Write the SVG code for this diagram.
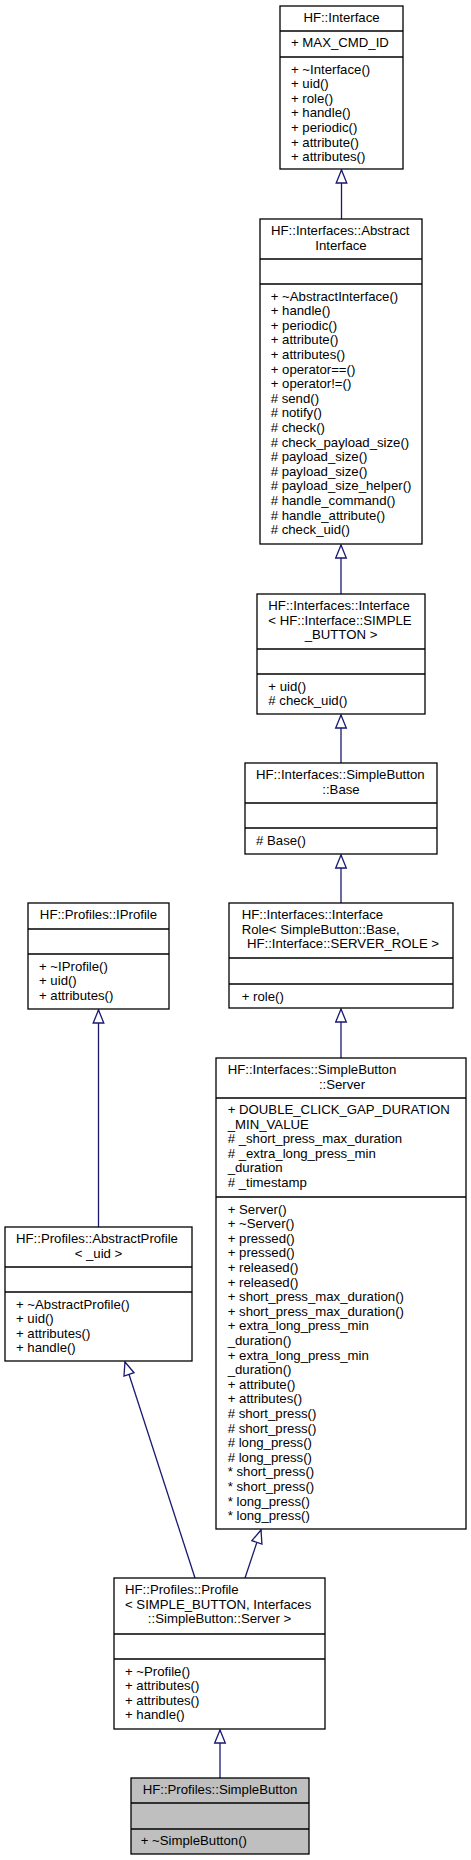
<svg xmlns="http://www.w3.org/2000/svg" width="471" height="1860" viewBox="0 0 471 1860">
<style>
.box{fill:#ffffff;stroke:#000000;stroke-width:1.3}
.sel{fill:#bfbfbf;stroke:#000000;stroke-width:1.3}
.div{stroke:#000000;stroke-width:1.3}
text{font-family:"Liberation Sans",Arial,Helvetica,sans-serif;font-size:13.2px;fill:#000000}
.c{text-anchor:middle}
.edge{fill:none;stroke:#191970;stroke-width:1.3}
</style>
<defs>
<marker id="tri" markerUnits="userSpaceOnUse" viewBox="-1 -1 15 13" markerWidth="15" markerHeight="13" refX="13" refY="5.3" orient="auto" overflow="visible">
<path d="M0,0 L13,5.3 L0,10.6 Z" fill="#ffffff" stroke="#191970" stroke-width="1.3"/>
</marker>
</defs>
<rect width="471" height="1860" fill="#ffffff"/>

<g id="connectors">
<path class="edge" d="M341.5,219 L341.5,170" marker-end="url(#tri)"/>
<path class="edge" d="M341,594 L341,545" marker-end="url(#tri)"/>
<path class="edge" d="M341,763 L341,715" marker-end="url(#tri)"/>
<path class="edge" d="M341,903 L341,855" marker-end="url(#tri)"/>
<path class="edge" d="M341,1058 L341,1009" marker-end="url(#tri)"/>
<path class="edge" d="M98.5,1227 L98.5,1010" marker-end="url(#tri)"/>
<path class="edge" d="M195,1578 L125,1362" marker-end="url(#tri)"/>
<path class="edge" d="M245,1578 L261,1530" marker-end="url(#tri)"/>
<path class="edge" d="M220,1778 L220,1730" marker-end="url(#tri)"/>
</g>

<g id="node-hf-interface">
<rect class="box" x="280" y="6" width="123" height="163"/>
<line class="div" x1="280" y1="31" x2="403" y2="31"/>
<line class="div" x1="280" y1="57" x2="403" y2="57"/>
<text class="c" x="341.5" y="22">HF::Interface</text>
<text x="291" y="47">+ MAX_CMD_ID</text>
<text x="291" y="73.5">+ ~Interface()</text>
<text x="291" y="88.1">+ uid()</text>
<text x="291" y="102.7">+ role()</text>
<text x="291" y="117.3">+ handle()</text>
<text x="291" y="131.9">+ periodic()</text>
<text x="291" y="146.5">+ attribute()</text>
<text x="291" y="161.1">+ attributes()</text>
</g>

<g id="node-abstract-interface">
<rect class="box" x="260" y="219" width="162" height="325"/>
<line class="div" x1="260" y1="259" x2="422" y2="259"/>
<line class="div" x1="260" y1="284" x2="422" y2="284"/>
<text x="271" y="235">HF::Interfaces::Abstract</text>
<text class="c" x="341" y="249.6">Interface</text>
<text x="270.7" y="300.5">+ ~AbstractInterface()</text>
<text x="270.7" y="315.1">+ handle()</text>
<text x="270.7" y="329.7">+ periodic()</text>
<text x="270.7" y="344.3">+ attribute()</text>
<text x="270.7" y="358.9">+ attributes()</text>
<text x="270.7" y="373.5">+ operator==()</text>
<text x="270.7" y="388.1">+ operator!=()</text>
<text x="270.7" y="402.7"># send()</text>
<text x="270.7" y="417.3"># notify()</text>
<text x="270.7" y="431.9"># check()</text>
<text x="270.7" y="446.5"># check_payload_size()</text>
<text x="270.7" y="461.1"># payload_size()</text>
<text x="270.7" y="475.7"># payload_size()</text>
<text x="270.7" y="490.3"># payload_size_helper()</text>
<text x="270.7" y="504.9"># handle_command()</text>
<text x="270.7" y="519.5"># handle_attribute()</text>
<text x="270.7" y="534.1"># check_uid()</text>
</g>

<g id="node-interface-simple-button">
<rect class="box" x="257" y="594" width="168" height="120"/>
<line class="div" x1="257" y1="649" x2="425" y2="649"/>
<line class="div" x1="257" y1="674" x2="425" y2="674"/>
<text x="268.3" y="610">HF::Interfaces::Interface</text>
<text x="268.3" y="624.6">&lt; HF::Interface::SIMPLE</text>
<text class="c" x="341" y="639.2">_BUTTON &gt;</text>
<text x="268.3" y="690.5">+ uid()</text>
<text x="268.3" y="705.1"># check_uid()</text>
</g>

<g id="node-simplebutton-base">
<rect class="box" x="245" y="763" width="192" height="91"/>
<line class="div" x1="245" y1="803" x2="437" y2="803"/>
<line class="div" x1="245" y1="828" x2="437" y2="828"/>
<text x="256" y="779">HF::Interfaces::SimpleButton</text>
<text class="c" x="341" y="793.6">::Base</text>
<text x="256" y="844.5"># Base()</text>
</g>

<g id="node-interface-role">
<rect class="box" x="229" y="903" width="224" height="105"/>
<line class="div" x1="229" y1="958" x2="453" y2="958"/>
<line class="div" x1="229" y1="984" x2="453" y2="984"/>
<text x="241.7" y="919">HF::Interfaces::Interface</text>
<text x="241.7" y="933.6">Role&lt; SimpleButton::Base,</text>
<text class="c" x="343" y="948.2">HF::Interface::SERVER_ROLE &gt;</text>
<text x="241.7" y="1000.5">+ role()</text>
</g>

<g id="node-simplebutton-server">
<rect class="box" x="216" y="1058" width="250" height="471"/>
<line class="div" x1="216" y1="1098" x2="466" y2="1098"/>
<line class="div" x1="216" y1="1197" x2="466" y2="1197"/>
<text x="227.7" y="1074">HF::Interfaces::SimpleButton</text>
<text class="c" x="342" y="1088.6">::Server</text>
<text x="227.7" y="1114">+ DOUBLE_CLICK_GAP_DURATION</text>
<text x="227.7" y="1128.6">_MIN_VALUE</text>
<text x="227.7" y="1143.2"># _short_press_max_duration</text>
<text x="227.7" y="1157.8"># _extra_long_press_min</text>
<text x="227.7" y="1172.4">_duration</text>
<text x="227.7" y="1187"># _timestamp</text>
<text x="227.7" y="1213.5">+ Server()</text>
<text x="227.7" y="1228.1">+ ~Server()</text>
<text x="227.7" y="1242.7">+ pressed()</text>
<text x="227.7" y="1257.3">+ pressed()</text>
<text x="227.7" y="1271.9">+ released()</text>
<text x="227.7" y="1286.5">+ released()</text>
<text x="227.7" y="1301.1">+ short_press_max_duration()</text>
<text x="227.7" y="1315.7">+ short_press_max_duration()</text>
<text x="227.7" y="1330.3">+ extra_long_press_min</text>
<text x="227.7" y="1344.9">_duration()</text>
<text x="227.7" y="1359.5">+ extra_long_press_min</text>
<text x="227.7" y="1374.1">_duration()</text>
<text x="227.7" y="1388.7">+ attribute()</text>
<text x="227.7" y="1403.3">+ attributes()</text>
<text x="227.7" y="1417.9"># short_press()</text>
<text x="227.7" y="1432.5"># short_press()</text>
<text x="227.7" y="1447.1"># long_press()</text>
<text x="227.7" y="1461.7"># long_press()</text>
<text x="227.7" y="1476.3">* short_press()</text>
<text x="227.7" y="1490.9">* short_press()</text>
<text x="227.7" y="1505.5">* long_press()</text>
<text x="227.7" y="1520.1">* long_press()</text>
</g>

<g id="node-iprofile">
<rect class="box" x="28" y="903" width="141" height="106"/>
<line class="div" x1="28" y1="929" x2="169" y2="929"/>
<line class="div" x1="28" y1="954" x2="169" y2="954"/>
<text class="c" x="98.5" y="919">HF::Profiles::IProfile</text>
<text x="39" y="970.5">+ ~IProfile()</text>
<text x="39" y="985.1">+ uid()</text>
<text x="39" y="999.7">+ attributes()</text>
</g>

<g id="node-abstract-profile">
<rect class="box" x="5" y="1227" width="187" height="134"/>
<line class="div" x1="5" y1="1267" x2="192" y2="1267"/>
<line class="div" x1="5" y1="1292" x2="192" y2="1292"/>
<text x="16" y="1243">HF::Profiles::AbstractProfile</text>
<text class="c" x="98.5" y="1257.6">&lt; _uid &gt;</text>
<text x="16" y="1308.5">+ ~AbstractProfile()</text>
<text x="16" y="1323.1">+ uid()</text>
<text x="16" y="1337.7">+ attributes()</text>
<text x="16" y="1352.3">+ handle()</text>
</g>

<g id="node-profile">
<rect class="box" x="114" y="1578" width="211" height="151"/>
<line class="div" x1="114" y1="1634" x2="325" y2="1634"/>
<line class="div" x1="114" y1="1659" x2="325" y2="1659"/>
<text x="125" y="1594">HF::Profiles::Profile</text>
<text x="125" y="1608.6">&lt; SIMPLE_BUTTON, Interfaces</text>
<text class="c" x="219.5" y="1623.2">::SimpleButton::Server &gt;</text>
<text x="125" y="1675.5">+ ~Profile()</text>
<text x="125" y="1690.1">+ attributes()</text>
<text x="125" y="1704.7">+ attributes()</text>
<text x="125" y="1719.3">+ handle()</text>
</g>

<g id="node-simplebutton">
<rect class="sel" x="131" y="1778" width="178" height="76"/>
<line class="div" x1="131" y1="1803" x2="309" y2="1803"/>
<line class="div" x1="131" y1="1829" x2="309" y2="1829"/>
<text class="c" x="220" y="1794">HF::Profiles::SimpleButton</text>
<text x="140.7" y="1845">+ ~SimpleButton()</text>
</g>
</svg>
